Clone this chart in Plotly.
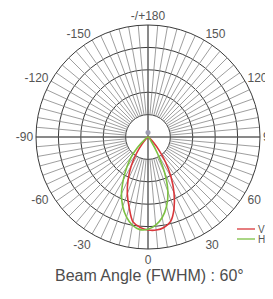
import plotly.graph_objects as go

# ---- data ----
angle_tick_vals = [0, 30, 60, 90, 120, 150, 180, 210, 240, 270, 300, 330]
angle_tick_text = ["0", "30", "60", "90", "120", "150", "-/+180", "-150", "-120", "-90", "-60", "-30"]
ring_vals = [1, 2, 3, 4]
spoke_step = 5

theta_v = [-50, -45, -40, -35, -30, -25, -20, -15, -10, -5, 0, 5, 10, 15, 20, 25, 30, 35, 40, 45, 50, 55]
r_v =     [0.0, 0.1, 0.4, 0.9, 1.5, 2.1, 2.7, 3.25, 3.85, 4.05, 4.15, 4.17, 4.1, 3.9, 3.4, 2.75, 2.05, 1.35, 0.75, 0.35, 0.1, 0.0]

theta_h = [-55, -50, -45, -40, -35, -30, -25, -20, -15, -10, -5, 0, 5, 10, 15, 20, 25, 30, 35, 40]
r_h =     [0.0, 0.25, 0.65, 1.15, 1.65, 2.2, 2.8, 3.3, 3.7, 4.0, 4.15, 4.12, 3.95, 3.65, 3.2, 2.6, 1.75, 0.85, 0.3, 0.0]

legend_names = ["V", "H"]
colors = ["#d9363a", "#7cc043"]

# page body has an 8px margin; figure laid out in page pixels minus 8
W, H = 265, 291
OFF = 8

def px(x):
    return (x - OFF) / W

def py(y):
    return 1 - (y - OFF) / H

fig = go.Figure()

# minor spokes from the inner ring to the outer ring
sp_r, sp_t = [], []
for a in range(0, 360, spoke_step):
    if a % 90 == 0:
        sp_r += [0, 5, None]
    else:
        sp_r += [1, 5, None]
    sp_t += [a, a, None]
fig.add_trace(go.Scatterpolar(r=sp_r, theta=sp_t, mode="lines",
                              line=dict(color="#858585", width=0.8),
                              hoverinfo="skip", showlegend=False))
# main cross axes
ax_r, ax_t = [], []
for a in [0, 90, 180, 270]:
    ax_r += [0, 5, None]
    ax_t += [a, a, None]
fig.add_trace(go.Scatterpolar(r=ax_r, theta=ax_t, mode="lines",
                              line=dict(color="#444444", width=1),
                              hoverinfo="skip", showlegend=False))

# small grey origin mark
fig.add_trace(go.Scatterpolar(r=[0.2], theta=[180], mode="markers",
                              marker=dict(color="#9c9cb0", size=5),
                              hoverinfo="skip", showlegend=False))

fig.add_trace(go.Scatterpolar(r=r_v, theta=theta_v, mode="lines", name=legend_names[0],
                              line=dict(color=colors[0], width=1.6, shape="spline"),
                              showlegend=False))
fig.add_trace(go.Scatterpolar(r=r_h, theta=theta_h, mode="lines", name=legend_names[1],
                              line=dict(color=colors[1], width=1.6, shape="spline"),
                              showlegend=False))

fig.update_layout(
    width=W, height=H,
    margin=dict(l=0, r=0, t=0, b=0),
    paper_bgcolor="white",
    font=dict(family="Liberation Sans, Arial, sans-serif", color="#555555", size=12),
    polar=dict(
        domain=dict(x=[px(36), px(260)], y=[py(249), py(25)]),
        bgcolor="white",
        radialaxis=dict(range=[0, 5], tickvals=ring_vals, showticklabels=False,
                        ticks="", showline=False, gridcolor="#3a3a3a", gridwidth=1),
        angularaxis=dict(rotation=270, direction="counterclockwise",
                         tickmode="array", tickvals=angle_tick_vals, ticktext=angle_tick_text,
                         showgrid=False, ticks="", showline=True, linecolor="#3a3a3a",
                         linewidth=1, tickfont=dict(size=12, color="#555555")),
    ),
)

# legend drawn at the right
for i, (nm, c) in enumerate(zip(legend_names, colors)):
    y = py(229 + i * 10)
    fig.add_shape(type="line", xref="paper", yref="paper",
                  x0=px(237), x1=px(255), y0=y, y1=y, line=dict(color=c, width=1.3))
    fig.add_annotation(x=px(257), y=y, xref="paper", yref="paper", text=nm,
                       showarrow=False, xanchor="left", yanchor="middle", borderpad=0,
                       font=dict(size=10, color="#555555"))

fig.add_annotation(x=px(149), y=py(275), xref="paper", yref="paper",
                   text="Beam Angle (FWHM) : 60°", showarrow=False,
                   xanchor="center", yanchor="middle",
                   font=dict(size=16, color="#4d4d4d"))

fig.write_html("out.html")
